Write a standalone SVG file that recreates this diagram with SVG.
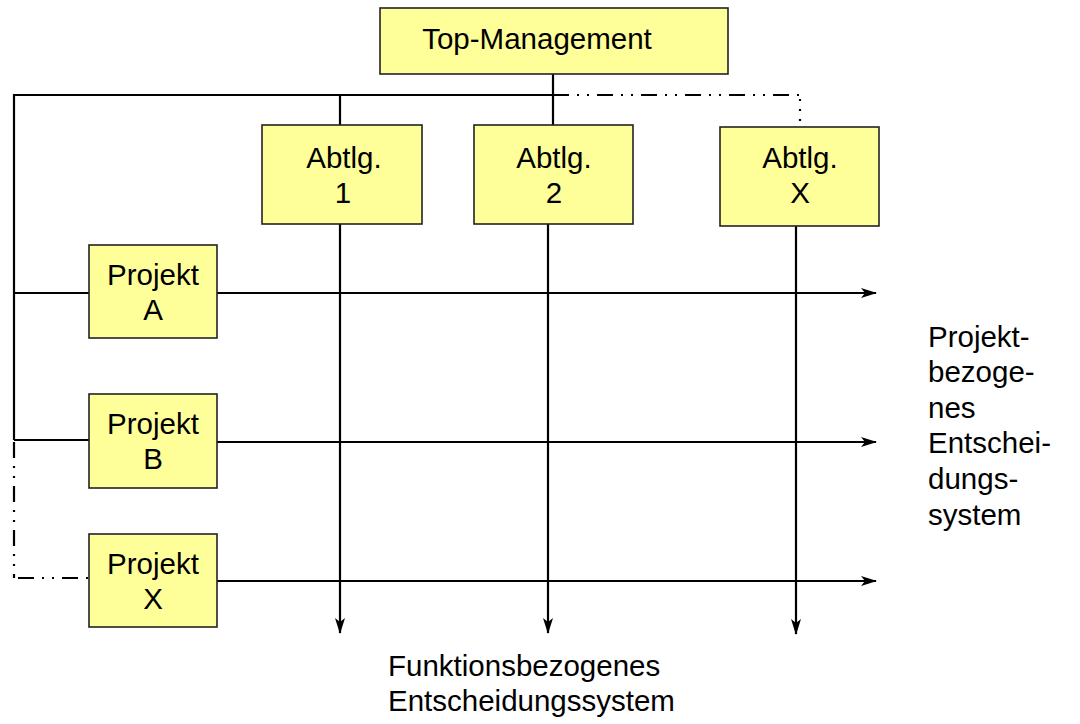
<svg xmlns="http://www.w3.org/2000/svg" width="1080" height="724" viewBox="0 0 1080 724">
<style>
.box{fill:#ffff99;stroke:#222;stroke-width:1.6}
.t{font-family:"Liberation Sans",Arial,sans-serif;font-size:29.5px;fill:#000;text-anchor:middle}
.tl{font-family:"Liberation Sans",Arial,sans-serif;font-size:29.5px;fill:#000}
.ln{stroke:#000;stroke-width:2.2;fill:none}
.dd{stroke:#000;stroke-width:2.2;fill:none;stroke-dasharray:16,8,2,8,2,8}
.dt{stroke:#000;stroke-width:2.2;fill:none;stroke-dasharray:2,8}
</style>
<defs>
<marker id="ah" viewBox="0 0 16 10" refX="15" refY="5" markerWidth="16" markerHeight="10" markerUnits="userSpaceOnUse" orient="auto">
<path d="M0,0 L16,5 L0,10 L4,5 Z" fill="#000"/>
</marker>
</defs>
<rect width="1080" height="724" fill="#fff"/>
<g id="connectors">
<path class="ln" d="M553,74 V125"/>
<path class="ln" d="M14,440 V95 H553"/>
<path class="ln" d="M340,95 V125"/>
<path class="dd" d="M553,95 H800"/>
<path class="dt" d="M800,99 V126"/>
<path class="ln" d="M14,293 H89"/>
<path class="ln" d="M14,440 H89"/>
<path class="dd" d="M14,442 V578"/>
<path class="dd" d="M18,578 H89"/>
<path class="ln" d="M217,293 H876" marker-end="url(#ah)"/>
<path class="ln" d="M217,442 H876" marker-end="url(#ah)"/>
<path class="ln" d="M217,581 H876" marker-end="url(#ah)"/>
<path class="ln" d="M340,224 V633" marker-end="url(#ah)"/>
<path class="ln" d="M548,224 V633" marker-end="url(#ah)"/>
<path class="ln" d="M796,226 V634" marker-end="url(#ah)"/>
</g>
<g id="top">
<rect class="box" x="380" y="8" width="348" height="66"/>
<text class="t" x="537" y="49">Top-Management</text>
</g>
<g id="abtlg1">
<rect class="box" x="262" y="125" width="160" height="99"/>
<text class="t" x="344" y="168">Abtlg.</text>
<text class="t" x="343" y="203">1</text>
</g>
<g id="abtlg2">
<rect class="box" x="474" y="125" width="159" height="99"/>
<text class="t" x="554" y="168">Abtlg.</text>
<text class="t" x="554" y="203">2</text>
</g>
<g id="abtlgX">
<rect class="box" x="720" y="127" width="159" height="99"/>
<text class="t" x="800" y="168">Abtlg.</text>
<text class="t" x="800" y="203">X</text>
</g>
<g id="projektA">
<rect class="box" x="89" y="245" width="128" height="93"/>
<text class="t" x="153" y="285">Projekt</text>
<text class="t" x="153" y="320">A</text>
</g>
<g id="projektB">
<rect class="box" x="89" y="394" width="128" height="94"/>
<text class="t" x="153" y="434">Projekt</text>
<text class="t" x="153" y="469">B</text>
</g>
<g id="projektX">
<rect class="box" x="89" y="534" width="128" height="93"/>
<text class="t" x="153" y="574">Projekt</text>
<text class="t" x="153" y="609">X</text>
</g>
<g id="labelRight">
<text class="tl" x="928" y="347">Projekt-</text>
<text class="tl" x="928" y="382">bezoge-</text>
<text class="tl" x="928" y="418">nes</text>
<text class="tl" x="928" y="453">Entschei-</text>
<text class="tl" x="928" y="489">dungs-</text>
<text class="tl" x="928" y="525">system</text>
</g>
<g id="labelBottom">
<text class="tl" x="388" y="676">Funktionsbezogenes</text>
<text class="tl" x="388" y="711">Entscheidungssystem</text>
</g>
</svg>
